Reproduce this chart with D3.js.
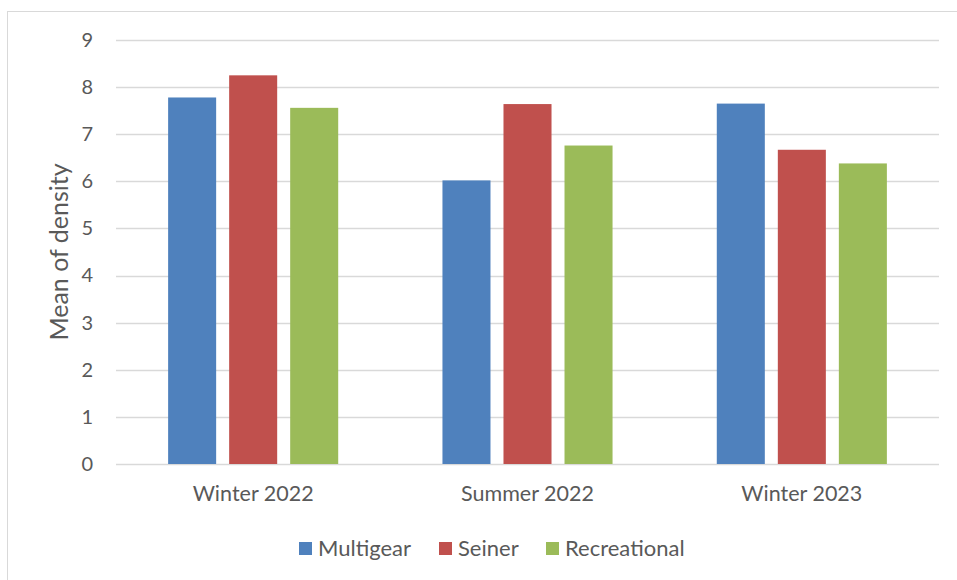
<!DOCTYPE html>
<html>
<head>
<meta charset="utf-8">
<script src="https://cdn.jsdelivr.net/npm/d3@7"></script>
<style>
  body { margin: 0; background: #fff; }
  text { font-family: Lato, "Open Sans", sans-serif; fill: #595959; }
</style>
</head>
<body>
<div id="chart"></div>
<script>
// data
var seasons = ["Winter 2022", "Summer 2022", "Winter 2023"];
var series = ["Multigear", "Seiner", "Recreational"];
var multigear = [7.78, 6.02, 7.65];
var seiner = [8.25, 7.64, 6.67];
var recreational = [7.56, 6.76, 6.38];
var yTicks = [0, 1, 2, 3, 4, 5, 6, 7, 8, 9];
var colors = ["#4F81BD", "#C0504D", "#9BBB59"];

var values = [multigear, seiner, recreational];

var W = 957, H = 580;
var margin = { top: 40, right: 18, bottom: 116, left: 116 },
    width = W - margin.left - margin.right,
    height = H - margin.top - margin.bottom;

var root = d3.select("#chart")
    .append("svg")
    .attr("width", W)
    .attr("height", H);

// chart border
root.append("rect")
    .attr("x", 7.5).attr("y", 11.5)
    .attr("width", W + 10).attr("height", H + 10)
    .attr("fill", "none")
    .attr("stroke", "#D9D9D9");

var svg = root.append("g")
    .attr("transform", "translate(" + margin.left + "," + margin.top + ")");

var y = d3.scaleLinear()
    .domain([0, 9])
    .range([height, 0]);

var x0 = d3.scaleBand()
    .domain(seasons)
    .range([0, width])
    .padding(0);

var bw = x0.bandwidth();
var x1 = d3.scaleBand()
    .domain(series)
    .range([bw * 0.19, bw * 0.81])
    .paddingInner(0.213)
    .paddingOuter(0);

// gridlines
svg.append("g")
    .selectAll("line")
    .data(yTicks)
    .enter()
    .append("line")
    .attr("x1", 0)
    .attr("x2", width)
    .attr("y1", function (d) { return Math.round(y(d)) + 0.5; })
    .attr("y2", function (d) { return Math.round(y(d)) + 0.5; })
    .attr("stroke", "#D9D9D9")
    .attr("stroke-width", 1.3);

// y axis labels
var yAxis = svg.append("g")
    .call(d3.axisLeft(y).tickValues(yTicks).tickSize(0).tickPadding(23).tickFormat(d3.format("d")));
yAxis.select(".domain").remove();
yAxis.selectAll("text")
    .style("font-size", "20px")
    .attr("fill", "#595959");

// bars
svg.append("g")
    .selectAll("g")
    .data(seasons)
    .enter()
    .append("g")
    .attr("transform", function (d) { return "translate(" + x0(d) + ",0)"; })
    .selectAll("rect")
    .data(function (d, i) {
        return series.map(function (s, j) { return { s: s, v: values[j][i], c: colors[j] }; });
    })
    .enter()
    .append("rect")
    .attr("x", function (d) { return x1(d.s); })
    .attr("width", x1.bandwidth())
    .attr("y", function (d) { return y(d.v); })
    .attr("height", function (d) { return height - y(d.v); })
    .attr("fill", function (d) { return d.c; });

// x axis labels
var xAxis = svg.append("g")
    .attr("transform", "translate(0," + height + ")")
    .call(d3.axisBottom(x0).tickSize(0).tickPadding(22));
xAxis.select(".domain").remove();
xAxis.selectAll("text")
    .style("font-size", "21.5px")
    .attr("fill", "#595959");

// y axis title
root.append("text")
    .attr("transform", "translate(59,252) rotate(-90)")
    .attr("dy", "0.35em")
    .style("text-anchor", "middle")
    .style("font-size", "25px")
    .text("Mean of density");

// legend
var legendX = [299, 439, 546];
var legend = root.append("g");
series.forEach(function (s, i) {
    legend.append("rect")
        .attr("x", legendX[i])
        .attr("y", 542)
        .attr("width", 13)
        .attr("height", 13)
        .attr("fill", colors[i]);
    legend.append("text")
        .attr("x", legendX[i] + 19)
        .attr("y", 556)
        .style("font-size", "22px")
        .text(s);
});
</script>
</body>
</html>
